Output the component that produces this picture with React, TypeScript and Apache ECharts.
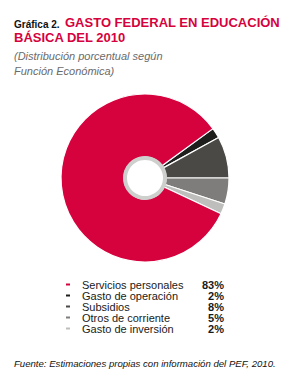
import React, { useEffect, useRef } from "react";
import * as echarts from "echarts";

const categories = [
  "Servicios personales",
  "Gasto de operación",
  "Subsidios",
  "Otros de corriente",
  "Gasto de inversión",
];
const values = [83, 2, 8, 5, 2];
const colors = ["#d5023e", "#1e1e1c", "#4b4946", "#7e7d7b", "#bebebc"];
// drawing order of slices (clockwise from the start angle)
const sliceOrder = [1, 2, 3, 4, 0];

const titleLead = "Gráfica 2.";
const titleLine1 = "GASTO FEDERAL EN EDUCACIÓN";
const titleLine2 = "BÁSICA DEL 2010";
const subtitle1 = "(Distribución porcentual según";
const subtitle2 = "Función Económica)";
const source = "Fuente: Estimaciones propias con información del PEF, 2010.";

export default function App() {
  const ref = useRef<HTMLDivElement>(null);
  useEffect(() => {
    document.body.style.margin = "0";
    if (!ref.current) return;
    const chart = echarts.init(ref.current, undefined, { renderer: "svg" });
    const pctMap: Record<string, number> = {};
    categories.forEach((c, i) => (pctMap[c] = values[i]));
    const F = "'Liberation Sans', Arial, sans-serif";
    chart.setOption({
      animation: false,
      backgroundColor: "#ffffff",
      legend: {
        orient: "vertical",
        left: 64,
        top: 279,
        padding: 0,
        itemWidth: 6,
        itemHeight: 4,
        itemGap: 0,
        icon: "rect",
        data: categories,
        selectedMode: false,
        formatter: (name: string) => `{n|${name}}{v|${pctMap[name]}%}`,
        textStyle: {
          rich: {
            n: {
              width: 117,
              padding: [0, 0, 0, 6],
              fontSize: 11,
              fontFamily: F,
              color: "#1a1a1a",
              lineHeight: 11,
            },
            v: {
              width: 25,
              align: "right",
              fontSize: 11,
              fontWeight: "bold",
              fontFamily: F,
              color: "#1a1a1a",
              lineHeight: 11,
            },
          },
        },
      },
      series: [
        {
          type: "pie",
          center: [145, 178],
          radius: [21, 84],
          startAngle: 36,
          clockwise: true,
          label: { show: false },
          labelLine: { show: false },
          silent: true,
          itemStyle: { borderColor: "#ffffff", borderWidth: 1.2 },
          data: sliceOrder.map((i) => ({
            name: categories[i],
            value: values[i],
            itemStyle: { color: colors[i] },
          })),
        },
        {
          type: "pie",
          center: [145, 178],
          radius: [18, 22],
          silent: true,
          label: { show: false },
          labelLine: { show: false },
          itemStyle: { color: "#cdd0cd" },
          data: [{ name: "hole", value: 1 }],
        },
      ],
      graphic: [
        {
          type: "text",
          left: 14,
          top: 19,
          style: {
            text: titleLead,
            font: `bold 10px ${F}`,
            fill: "#111111",
          },
        },
        {
          type: "text",
          left: 65,
          top: 16,
          style: {
            text: titleLine1,
            font: `bold 13px ${F}`,
            fill: "#d5023e",
          },
        },
        {
          type: "text",
          left: 14,
          top: 31,
          style: {
            text: titleLine2,
            font: `bold 13px ${F}`,
            fill: "#d5023e",
          },
        },
        {
          type: "text",
          left: 14,
          top: 50,
          style: {
            text: subtitle1,
            font: `italic 11px ${F}`,
            fill: "#6b6b6b",
          },
        },
        {
          type: "text",
          left: 14,
          top: 65,
          style: {
            text: subtitle2,
            font: `italic 11px ${F}`,
            fill: "#6b6b6b",
          },
        },
        {
          type: "text",
          left: 14,
          top: 358,
          style: {
            text: source,
            font: `italic 9.6px ${F}`,
            fill: "#111111",
          },
        },
      ],
    });
    return () => chart.dispose();
  }, []);
  return <div ref={ref} style={{ width: 302, height: 376 }} />;
}
